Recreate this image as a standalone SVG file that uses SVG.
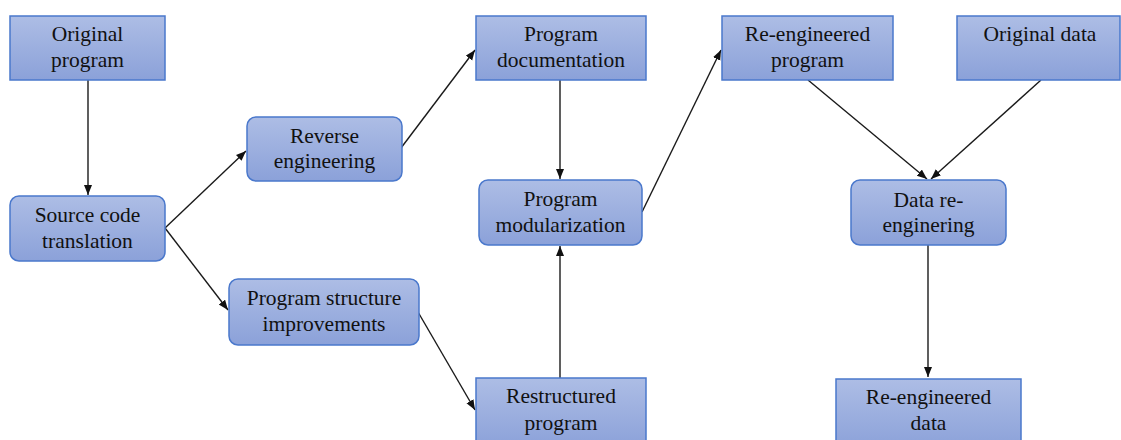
<svg xmlns="http://www.w3.org/2000/svg" width="1121" height="440" viewBox="0 0 1121 440">
  <style>
    .box { fill: url(#boxFill); stroke: #4a78cc; stroke-width: 1.5; }
    .lbl { font-family: "Liberation Serif", "Times New Roman", serif; font-size: 21.5px; fill: #111; text-anchor: middle; }
    .edge { fill: none; stroke: #1a1a1a; stroke-width: 1.4; marker-end: url(#arrow); }
  </style>
  <defs>
    <linearGradient id="boxFill" x1="0" y1="0" x2="0" y2="1">
      <stop offset="0" stop-color="#adbde5"/>
      <stop offset="1" stop-color="#8ba1d9"/>
    </linearGradient>
    <marker id="arrow" markerUnits="userSpaceOnUse" markerWidth="11" markerHeight="9" refX="10" refY="4" orient="auto">
      <path d="M0,0 L10,4 L0,8 Z" fill="#111"/>
    </marker>
  </defs>
  <rect width="1121" height="440" fill="#ffffff"/>

  <g id="connectors">
    <line class="edge" x1="88" y1="80" x2="88" y2="195"/>
    <line class="edge" x1="165" y1="228" x2="246" y2="151"/>
    <line class="edge" x1="165" y1="228" x2="228" y2="310"/>
    <line class="edge" x1="401" y1="148" x2="475" y2="50"/>
    <line class="edge" x1="418" y1="312" x2="475" y2="410"/>
    <line class="edge" x1="560" y1="80" x2="560" y2="179"/>
    <line class="edge" x1="560" y1="378" x2="560" y2="246"/>
    <line class="edge" x1="642" y1="212" x2="721" y2="50"/>
    <line class="edge" x1="808" y1="80" x2="927" y2="179"/>
    <line class="edge" x1="1041" y1="80" x2="931" y2="179"/>
    <line class="edge" x1="928" y1="245" x2="928" y2="377"/>
  </g>

  <g id="original-program">
    <rect class="box" x="10" y="16" width="155" height="64"/>
    <text class="lbl" x="87.5" y="41">Original</text>
    <text class="lbl" x="87.5" y="67">program</text>
  </g>

  <g id="source-code-translation">
    <rect class="box" x="10" y="196" width="155" height="65" rx="9"/>
    <text class="lbl" x="87.5" y="222">Source code</text>
    <text class="lbl" x="87.5" y="248">translation</text>
  </g>

  <g id="reverse-engineering">
    <rect class="box" x="247" y="117" width="155" height="64" rx="9"/>
    <text class="lbl" x="324.5" y="143">Reverse</text>
    <text class="lbl" x="324.5" y="168">engineering</text>
  </g>

  <g id="program-structure-improvements">
    <rect class="box" x="229" y="279" width="190" height="66" rx="9"/>
    <text class="lbl" x="324" y="305">Program structure</text>
    <text class="lbl" x="324" y="331">improvements</text>
  </g>

  <g id="program-documentation">
    <rect class="box" x="476" y="16" width="170" height="64"/>
    <text class="lbl" x="561" y="41">Program</text>
    <text class="lbl" x="561" y="67">documentation</text>
  </g>

  <g id="program-modularization">
    <rect class="box" x="479" y="180" width="163" height="65" rx="9"/>
    <text class="lbl" x="560.5" y="206">Program</text>
    <text class="lbl" x="560.5" y="232">modularization</text>
  </g>

  <g id="restructured-program">
    <rect class="box" x="476" y="378" width="170" height="70"/>
    <text class="lbl" x="561" y="403">Restructured</text>
    <text class="lbl" x="561" y="430">program</text>
  </g>

  <g id="re-engineered-program">
    <rect class="box" x="722" y="16" width="171" height="64"/>
    <text class="lbl" x="807.5" y="41">Re-engineered</text>
    <text class="lbl" x="807.5" y="67">program</text>
  </g>

  <g id="original-data">
    <rect class="box" x="957" y="16" width="163" height="64"/>
    <text class="lbl" x="1040" y="41">Original data</text>
  </g>

  <g id="data-re-engineering">
    <rect class="box" x="851" y="180" width="155" height="65" rx="9"/>
    <text class="lbl" x="928.5" y="207">Data re-</text>
    <text class="lbl" x="928.5" y="232">enginering</text>
  </g>

  <g id="re-engineered-data">
    <rect class="box" x="836" y="379" width="185" height="70"/>
    <text class="lbl" x="928.5" y="404">Re-engineered</text>
    <text class="lbl" x="928.5" y="430">data</text>
  </g>
</svg>
